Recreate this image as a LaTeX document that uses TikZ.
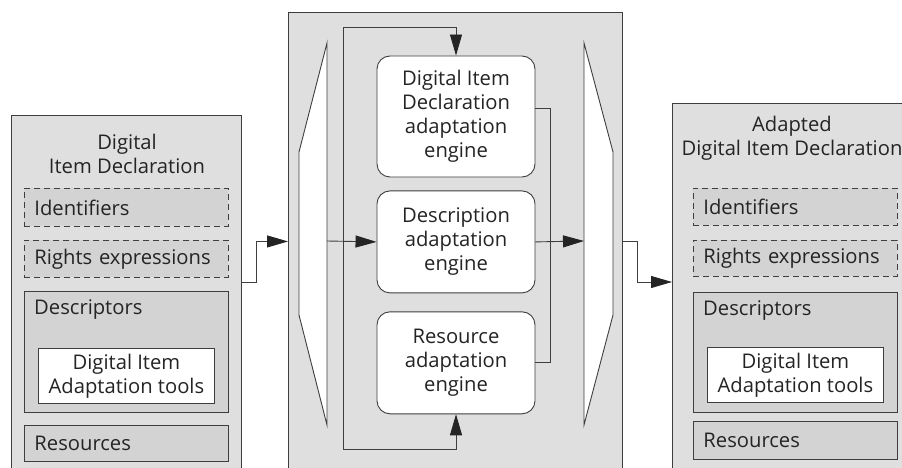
\documentclass[tikz,border=0pt]{standalone}
\usepackage{fontspec}
\setmainfont{Open Sans}
\usetikzlibrary{arrows.meta,positioning}
\definecolor{panelgray}{RGB}{223,223,223}
\definecolor{boxgray}{RGB}{211,211,211}
\definecolor{linegray}{RGB}{62,62,62}
\definecolor{textgray}{RGB}{36,36,36}

\begin{document}
\begin{tikzpicture}[x=1pt, y=-1pt,
  node distance=13pt,
  every node/.style={font=\fontsize{20.2}{24}\selectfont, text=textgray},
  line/.style  ={draw=linegray, line width=0.9pt},
  panel/.style ={line, fill=panelgray, anchor=north west, inner sep=0pt},
  item/.style  ={line, fill=boxgray, text width=184pt, inner xsep=10pt,
                 inner ysep=0pt, align=left},
  opt/.style   ={item, dash pattern=on 6pt off 4pt},
  tool/.style  ={line, fill=white, align=center, inner sep=0pt,
                 minimum width=176pt, minimum height=55pt},
  engine/.style={line, fill=white, rounded corners=13pt, align=center,
                 inner sep=0pt, minimum width=158pt},
  arr/.style   ={line, -{Triangle[length=21pt, width=12pt, color=textgray]}}
]
\useasboundingbox (0,0) rectangle (902,468);
\clip (0,0) rectangle (902,468);

% input declaration
\node[panel, minimum width=230pt, minimum height=365pt] (pL) at (11,115) {};
\node[align=center] (tL) at (127,154) {Digital\\Item Declaration};
\node[opt, anchor=north west, minimum height=38pt] (idL) at (24,188) {Identifiers};
\node[opt, below=of idL, minimum height=37pt] (rtL) {Rights expressions};
\node[item, below=of rtL, minimum height=121pt,
      label={[anchor=north west, inner xsep=10pt, inner ysep=9pt]north west:Descriptors}] (dsL) {};
\node[tool, above=9pt of dsL.south] (toolL) {Digital Item\\Adaptation tools};
\node[item, below=12pt of dsL, minimum height=36pt] (rsL) {Resources};

% adaptation engines
\node[panel, minimum width=334pt, minimum height=458pt] (pM) at (288,12) {};
\draw[line, fill=white] (327,43) -- (299,152) -- (299,315) -- (327,425) -- cycle;
\draw[line, fill=white] (584,43) -- (613,152) -- (613,315) -- (584,425) -- cycle;
\node[engine, minimum height=121pt] (didE) at (456,116.5)
      {Digital Item\\Declaration\\adaptation\\engine};
\node[engine, below=of didE, minimum height=102pt] (descE)
      {Description\\adaptation\\engine};
\node[engine, below=18pt of descE, minimum height=102pt] (resE)
      {Resource\\adaptation\\engine};

% adapted declaration
\node[panel, minimum width=245pt, minimum height=377pt] (pR) at (672,103) {};
\node[align=center] (tR) at (792,138) {Adapted\\Digital Item Declaration};
\node[opt, anchor=north west, minimum height=37pt] (idR) at (693,188) {Identifiers};
\node[opt, below=14pt of idR, minimum height=36pt] (rtR) {Rights expressions};
\node[item, below=15pt of rtR, minimum height=120pt,
      label={[anchor=north west, inner xsep=10pt, inner ysep=9pt]north west:Descriptors}] (dsR) {};
\node[tool, above=10pt of dsR.south] (toolR) {Digital Item\\Adaptation tools};
\node[item, below=8pt of dsR, minimum height=38pt] (rsR) {Resources};

% connectors
\coordinate (outL)  at (241,282);
\coordinate (tLo)   at (327,241);
\coordinate (tRi)   at (584,241);
\coordinate (split) at (343,241);
\coordinate (busT)  at (343,27);
\coordinate (busB)  at (343,449);
\coordinate (merge) at (550,241);
\draw[arr] (outL) -- ++(15,0) |- (pM.west);
\draw[arr] (tLo) -- (descE.west);
\draw[arr] (split) -- (busT) -| (didE.north);
\draw[arr] (split) -- (busB) -| (resE.south);
\draw[line] ([yshift=8pt]didE.east) -| (merge);
\draw[line] (resE.east) -| (merge);
\draw[arr] (descE.east) -- (tRi);
\draw[arr] (pM.east) -- ++(15,0) |- (pR.west |- outL);
\end{tikzpicture}
\end{document}
